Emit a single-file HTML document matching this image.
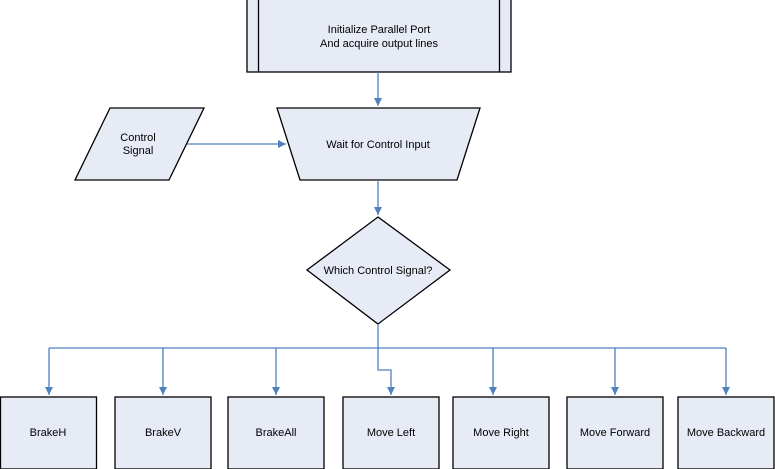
<!DOCTYPE html>
<html><head><style>html,body{margin:0;padding:0;background:#fff;}svg{display:block}</style></head>
<body>
<svg width="775" height="469" viewBox="0 0 775 469" xmlns="http://www.w3.org/2000/svg" font-family="'Liberation Sans', Arial, sans-serif" font-size="11" fill="#000">
<defs>
<marker id="a" markerWidth="10" markerHeight="10" refX="8" refY="4" orient="auto" markerUnits="userSpaceOnUse">
<path d="M0,0 L8,4 L0,8 Z" fill="#4f81bd"/></marker>
</defs>
<g fill="#e6ebf5" stroke="#000" stroke-width="1.3">
<rect x="247" y="-1" width="264" height="73"/>
<line x1="258.5" y1="0" x2="258.5" y2="72"/>
<line x1="499.5" y1="0" x2="499.5" y2="72"/>
<polygon points="277,108 480,108 457,180 300,180"/>
<polygon points="110,108 204,108 169,180 75,180"/>
<polygon points="378,217 450,270 378,324 307,270"/>
<rect x="0.5" y="397" width="96" height="72"/>
<rect x="115" y="397" width="96" height="72"/>
<rect x="228" y="397" width="96" height="72"/>
<rect x="343" y="397" width="96" height="72"/>
<rect x="453" y="397" width="96" height="72"/>
<rect x="567" y="397" width="96" height="72"/>
<rect x="678" y="397" width="96" height="72"/>
</g>
<g stroke="#4f81bd" stroke-width="1.3" fill="none">
<line x1="378" y1="72" x2="378" y2="106" marker-end="url(#a)"/>
<line x1="187" y1="144" x2="286" y2="144" marker-end="url(#a)"/>
<line x1="378" y1="180" x2="378" y2="215" marker-end="url(#a)"/>
<line x1="378" y1="324" x2="378" y2="348"/>
<line x1="49" y1="348" x2="726" y2="348"/>
<line x1="49" y1="348" x2="49" y2="395" marker-end="url(#a)"/>
<line x1="163" y1="348" x2="163" y2="395" marker-end="url(#a)"/>
<line x1="276" y1="348" x2="276" y2="395" marker-end="url(#a)"/>
<polyline points="378,348 378,370 391,370 391,395" marker-end="url(#a)"/>
<line x1="493" y1="348" x2="493" y2="395" marker-end="url(#a)"/>
<line x1="615" y1="348" x2="615" y2="395" marker-end="url(#a)"/>
<line x1="726" y1="348" x2="726" y2="395" marker-end="url(#a)"/>
</g>
<g text-anchor="middle">
<text x="379" y="33">Initialize Parallel Port</text>
<text x="379" y="47">And acquire output lines</text>
<text x="378" y="148">Wait for Control Input</text>
<text x="138" y="141">Control</text>
<text x="138" y="154">Signal</text>
<text x="378" y="274">Which Control Signal?</text>
<text x="48" y="436">BrakeH</text>
<text x="163" y="436">BrakeV</text>
<text x="276" y="436">BrakeAll</text>
<text x="391" y="436">Move Left</text>
<text x="501" y="436">Move Right</text>
<text x="615" y="436">Move Forward</text>
<text x="726" y="436">Move Backward</text>
</g>
</svg>
</body></html>
